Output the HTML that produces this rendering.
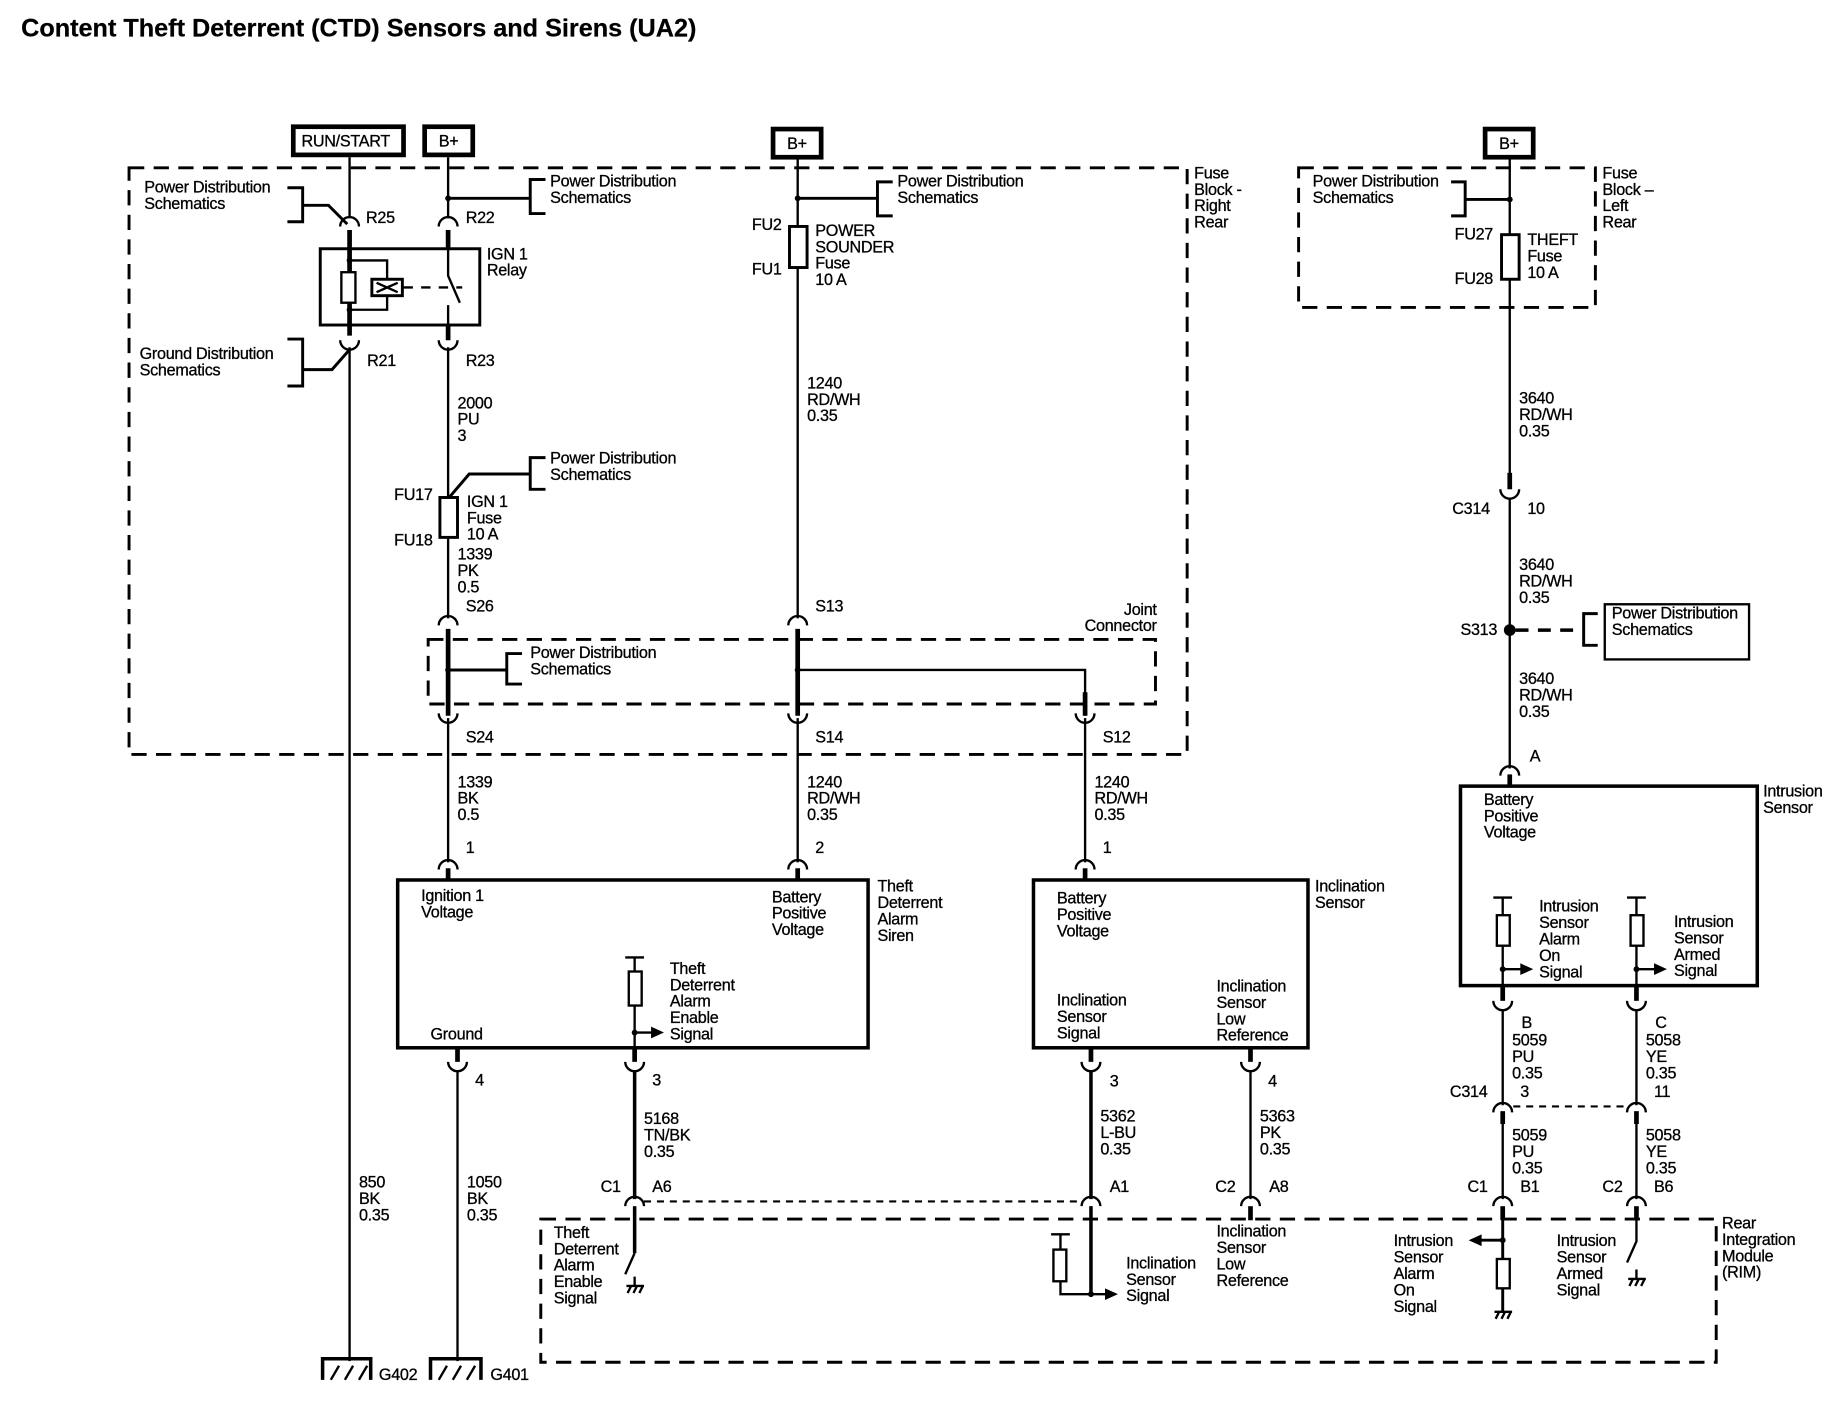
<!DOCTYPE html>
<html><head><meta charset="utf-8"><style>
html,body{margin:0;padding:0;background:#fff}
svg{display:block}
text{font-family:"Liberation Sans",Arial,sans-serif;font-size:13.8px;fill:#000;letter-spacing:-0.25px;stroke:#000;stroke-width:0.25px}
.t{font-size:21.5px;font-weight:bold;letter-spacing:0;stroke-width:0.2px}
.w{stroke:#000;stroke-width:2;fill:none}
.k{stroke:#000;stroke-width:4;fill:none}
.d{stroke:#000;stroke-width:2.5;fill:none;stroke-dasharray:13 8}
.dd{stroke:#000;stroke-width:1.8;fill:none;stroke-dasharray:6 5}
.c{stroke:#000;stroke-width:2;fill:none}
</style></head><body>
<svg width="1830" height="1408" viewBox="0 0 1560 1200" preserveAspectRatio="none" xmlns="http://www.w3.org/2000/svg">
<text class="t" x="18" y="31">Content Theft Deterrent (CTD) Sensors and Sirens (UA2)</text>

<!-- top boxes -->
<rect x="250" y="108" width="94" height="24" fill="none" stroke="#000" stroke-width="4"/>
<text x="257" y="125">RUN/START</text>
<rect x="362" y="108" width="41" height="24" fill="none" stroke="#000" stroke-width="4"/>
<text x="374" y="125">B+</text>
<rect x="659" y="110" width="41" height="24" fill="none" stroke="#000" stroke-width="4"/>
<text x="671" y="127">B+</text>
<rect x="1266" y="110" width="41" height="24" fill="none" stroke="#000" stroke-width="4"/>
<text x="1278" y="127">B+</text>

<!-- fuse block right rear -->
<rect x="110" y="143" width="902" height="500" class="d"/>
<text x="1018" y="152">Fuse</text><text x="1018" y="166">Block -</text><text x="1018" y="180">Right</text><text x="1018" y="194">Rear</text>

<!-- left wire 298 -->
<line x1="298" y1="134" x2="298" y2="186" class="w"/>
<path d="M290 193 A8 8 0 0 1 306 193" class="c"/>
<line x1="298" y1="196" x2="298" y2="286" class="k"/>
<path d="M290 290 A8 8 0 0 0 306 290" class="c"/>
<line x1="298" y1="296" x2="298" y2="1160" class="w"/>
<text x="312" y="190">R25</text><text x="313" y="312">R21</text>
<text x="123" y="164">Power Distribution</text><text x="123" y="178">Schematics</text>
<path d="M245 160 H258 V189 H245 M258 175 H280 L296 191" class="w" style="stroke-width:2.5"/>
<text x="119" y="306">Ground Distribution</text><text x="119" y="320">Schematics</text>
<path d="M245 289 H258 V329 H245 M258 315 H283 L298 298" class="w" style="stroke-width:2.5"/>

<!-- wire 382 -->
<line x1="382" y1="134" x2="382" y2="186" class="w"/>
<circle cx="382" cy="169" r="2.5"/>
<path d="M382 169 H452 M465 153 H452 V182 H465" class="w" style="stroke-width:2.5"/>
<text x="469" y="159">Power Distribution</text><text x="469" y="173">Schematics</text>
<path d="M374 193 A8 8 0 0 1 390 193" class="c"/>
<line x1="382" y1="196" x2="382" y2="213" class="k"/>
<line x1="382" y1="277" x2="382" y2="290" class="k"/>
<path d="M374 290 A8 8 0 0 0 390 290" class="c"/>
<text x="397" y="190">R22</text><text x="397" y="312">R23</text>
<!-- relay -->
<rect x="273" y="212" width="136" height="65" fill="none" stroke="#000" stroke-width="2.5"/>
<circle cx="298" cy="222" r="2.5"/><circle cx="298" cy="264" r="2.5"/>
<path d="M298 222 H330 V238 M298 264 H330 V252" class="w"/>
<rect x="291" y="232" width="12" height="26" fill="#fff" stroke="#000" stroke-width="2"/>
<rect x="317" y="238" width="26" height="14" fill="#fff" stroke="#000" stroke-width="2.5"/>
<path d="M321 241 L339 249 M339 241 L321 249" class="w"/>
<line x1="344" y1="245" x2="394" y2="245" class="w" style="stroke-dasharray:8 7"/>
<path d="M382 213 V235 L392 258 M382 260 V277" class="w"/>
<text x="415" y="221">IGN 1</text><text x="415" y="235">Relay</text>
<line x1="382" y1="296" x2="382" y2="527" class="w"/>
<text x="390" y="348">2000</text><text x="390" y="362">PU</text><text x="390" y="376">3</text>
<path d="M382 425 L400 404 H452 M465 390 H452 V417 H465" class="w" style="stroke-width:2.5"/>
<text x="469" y="395">Power Distribution</text><text x="469" y="409">Schematics</text>
<rect x="375" y="424" width="15" height="34" fill="#fff" stroke="#000" stroke-width="2.5"/>
<text x="336" y="426">FU17</text><text x="336" y="465">FU18</text>
<text x="398" y="432">IGN 1</text><text x="398" y="446">Fuse</text><text x="398" y="460">10 A</text>
<text x="390" y="477">1339</text><text x="390" y="491">PK</text><text x="390" y="505">0.5</text>
<text x="397" y="521">S26</text>
<path d="M374 533 A8 8 0 0 1 390 533" class="c"/>
<line x1="382" y1="536" x2="382" y2="610" class="k"/>

<!-- wire 680 -->
<line x1="680" y1="135" x2="680" y2="527" class="w"/>
<circle cx="680" cy="169" r="2.5"/>
<path d="M680 169 H748 M761 155 H748 V184 H761" class="w" style="stroke-width:2.5"/>
<text x="765" y="159">Power Distribution</text><text x="765" y="173">Schematics</text>
<rect x="673" y="193" width="15" height="35" fill="#fff" stroke="#000" stroke-width="2.5"/>
<text x="641" y="196">FU2</text><text x="641" y="234">FU1</text>
<text x="695" y="201">POWER</text><text x="695" y="215">SOUNDER</text><text x="695" y="229">Fuse</text><text x="695" y="243">10 A</text>
<text x="688" y="331">1240</text><text x="688" y="345">RD/WH</text><text x="688" y="359">0.35</text>
<text x="695" y="521">S13</text>
<path d="M672 533 A8 8 0 0 1 688 533" class="c"/>
<line x1="680" y1="536" x2="680" y2="610" class="k"/>

<!-- joint connector -->
<rect x="365" y="545" width="620" height="55" class="d"/>
<text x="986" y="524" text-anchor="end">Joint</text><text x="986" y="538" text-anchor="end">Connector</text>
<circle cx="382" cy="571" r="2.5"/>
<path d="M382 571 H432 M445 557 H432 V583 H445" class="w" style="stroke-width:2.5"/>
<text x="452" y="561">Power Distribution</text><text x="452" y="575">Schematics</text>
<circle cx="680" cy="571" r="2.5"/>
<path d="M680 571 H925 V610" class="w"/>
<line x1="925" y1="590" x2="925" y2="610" class="k"/>
<path d="M374 608 A8 8 0 0 0 390 608" class="c"/>
<path d="M672 608 A8 8 0 0 0 688 608" class="c"/>
<path d="M917 608 A8 8 0 0 0 933 608" class="c"/>
<text x="397" y="633">S24</text><text x="695" y="633">S14</text><text x="940" y="633">S12</text>
<line x1="382" y1="612" x2="382" y2="735" class="w"/>
<line x1="680" y1="612" x2="680" y2="735" class="w"/>
<line x1="925" y1="612" x2="925" y2="735" class="w"/>
<text x="390" y="671">1339</text><text x="390" y="685">BK</text><text x="390" y="699">0.5</text>
<text x="688" y="671">1240</text><text x="688" y="685">RD/WH</text><text x="688" y="699">0.35</text>
<text x="933" y="671">1240</text><text x="933" y="685">RD/WH</text><text x="933" y="699">0.35</text>
<text x="397" y="727">1</text><text x="695" y="727">2</text><text x="940" y="727">1</text>
<path d="M374 741 A8 8 0 0 1 390 741" class="c"/>
<path d="M672 741 A8 8 0 0 1 688 741" class="c"/>
<path d="M917 741 A8 8 0 0 1 933 741" class="c"/>
<line x1="382" y1="740" x2="382" y2="751" class="k"/>
<line x1="680" y1="740" x2="680" y2="751" class="k"/>
<line x1="925" y1="740" x2="925" y2="751" class="k"/>

<!-- siren box -->
<rect x="339" y="750" width="401" height="143" fill="none" stroke="#000" stroke-width="3"/>
<text x="748" y="760">Theft</text><text x="748" y="774">Deterrent</text><text x="748" y="788">Alarm</text><text x="748" y="802">Siren</text>
<text x="359" y="768">Ignition 1</text><text x="359" y="782">Voltage</text>
<text x="658" y="769">Battery</text><text x="658" y="783">Positive</text><text x="658" y="797">Voltage</text>
<text x="367" y="886">Ground</text>
<path d="M533 816 H549 M541 816 V894" class="w"/>
<rect x="536" y="828" width="11" height="29" fill="#fff" stroke="#000" stroke-width="2"/>
<circle cx="541" cy="880" r="2.5"/>
<path d="M541 880 H556" class="w"/><path d="M555 875 L566 880 L555 885 Z"/>
<text x="571" y="830">Theft</text><text x="571" y="844">Deterrent</text><text x="571" y="858">Alarm</text><text x="571" y="872">Enable</text><text x="571" y="886">Signal</text>
<!-- pins under siren -->
<line x1="390" y1="893" x2="390" y2="905" class="k"/>
<path d="M382 905 A8 8 0 0 0 398 905" class="c"/>
<line x1="390" y1="912" x2="390" y2="1160" class="w"/>
<line x1="541" y1="893" x2="541" y2="905" class="k"/>
<path d="M533 905 A8 8 0 0 0 549 905" class="c"/>
<line x1="541" y1="912" x2="541" y2="1022" class="k" style="stroke-width:3"/>
<text x="405" y="925">4</text><text x="556" y="925">3</text>
<text x="306" y="1012">850</text><text x="306" y="1026">BK</text><text x="306" y="1040">0.35</text>
<text x="398" y="1012">1050</text><text x="398" y="1026">BK</text><text x="398" y="1040">0.35</text>
<text x="549" y="958">5168</text><text x="549" y="972">TN/BK</text><text x="549" y="986">0.35</text>
<text x="512" y="1016">C1</text><text x="556" y="1016">A6</text>
<path d="M533 1028 A8 8 0 0 1 549 1028" class="c"/>
<line x1="541" y1="1028" x2="541" y2="1068" class="k" style="stroke-width:3"/>
<line x1="549" y1="1024" x2="922" y2="1024" class="dd"/>

<!-- grounds -->
<path d="M275 1176 V1158 H316 V1176" class="k" style="stroke-width:3"/>
<path d="M282 1176 L289 1164 M294 1176 L301 1164 M306 1176 L313 1164" class="w"/>
<path d="M367 1176 V1158 H410 V1176" class="k" style="stroke-width:3"/>
<path d="M374 1176 L381 1164 M386 1176 L393 1164 M398 1176 L405 1164" class="w"/>
<text x="323" y="1176">G402</text><text x="418" y="1176">G401</text>

<!-- inclination sensor -->
<rect x="881" y="750" width="234" height="143" fill="none" stroke="#000" stroke-width="3"/>
<text x="1121" y="760">Inclination</text><text x="1121" y="774">Sensor</text>
<text x="901" y="770">Battery</text><text x="901" y="784">Positive</text><text x="901" y="798">Voltage</text>
<text x="901" y="857">Inclination</text><text x="901" y="871">Sensor</text><text x="901" y="885">Signal</text>
<text x="1037" y="845">Inclination</text><text x="1037" y="859">Sensor</text><text x="1037" y="873">Low</text><text x="1037" y="887">Reference</text>
<line x1="930" y1="893" x2="930" y2="905" class="k"/>
<path d="M922 905 A8 8 0 0 0 938 905" class="c"/>
<line x1="930" y1="912" x2="930" y2="1022" class="k" style="stroke-width:3"/>
<line x1="1066" y1="893" x2="1066" y2="905" class="k"/>
<path d="M1058 905 A8 8 0 0 0 1074 905" class="c"/>
<line x1="1066" y1="912" x2="1066" y2="1022" class="w"/>
<text x="946" y="926">3</text><text x="1081" y="926">4</text>
<text x="938" y="956">5362</text><text x="938" y="970">L-BU</text><text x="938" y="984">0.35</text>
<text x="1074" y="956">5363</text><text x="1074" y="970">PK</text><text x="1074" y="984">0.35</text>
<text x="946" y="1016">A1</text><text x="1036" y="1016">C2</text><text x="1082" y="1016">A8</text>
<path d="M922 1028 A8 8 0 0 1 938 1028" class="c"/>
<path d="M1058 1028 A8 8 0 0 1 1074 1028" class="c"/>
<line x1="930" y1="1028" x2="930" y2="1103" class="k" style="stroke-width:3"/>
<line x1="1066" y1="1028" x2="1066" y2="1040" class="k"/>

<!-- RIM -->
<rect x="461" y="1039" width="1002" height="122" class="d"/>
<text x="1468" y="1047">Rear</text><text x="1468" y="1061">Integration</text><text x="1468" y="1075">Module</text><text x="1468" y="1089">(RIM)</text>
<text x="472" y="1055">Theft</text><text x="472" y="1069">Deterrent</text><text x="472" y="1083">Alarm</text><text x="472" y="1097">Enable</text><text x="472" y="1111">Signal</text>
<path d="M541 1068 L533 1086" class="w"/>
<path d="M541 1088 V1096 M534 1096 H549 M535 1102 L538 1096 M540 1102 L543 1096 M545 1102 L548 1096" class="w"/>
<path d="M896 1052 H912 M904 1052 V1103 H943" class="w"/>
<rect x="898" y="1065" width="11" height="27" fill="#fff" stroke="#000" stroke-width="2"/>
<circle cx="930" cy="1103" r="2.5"/><path d="M942 1098 L953 1103 L942 1108 Z"/>
<text x="960" y="1081">Inclination</text><text x="960" y="1095">Sensor</text><text x="960" y="1109">Signal</text>
<text x="1037" y="1054">Inclination</text><text x="1037" y="1068">Sensor</text><text x="1037" y="1082">Low</text><text x="1037" y="1096">Reference</text>

<!-- fuse block left rear -->
<rect x="1107" y="143" width="253" height="119" class="d"/>
<text x="1366" y="152">Fuse</text><text x="1366" y="166">Block –</text><text x="1366" y="180">Left</text><text x="1366" y="194">Rear</text>
<text x="1119" y="159">Power Distribution</text><text x="1119" y="173">Schematics</text>
<path d="M1237 155 H1249 V184 H1237 M1249 170 H1287" class="w" style="stroke-width:2.5"/>
<circle cx="1287" cy="170" r="2.5"/>
<line x1="1287" y1="135" x2="1287" y2="407" class="w"/>
<rect x="1280" y="200" width="15" height="38" fill="#fff" stroke="#000" stroke-width="2.5"/>
<text x="1240" y="204">FU27</text><text x="1240" y="242">FU28</text>
<text x="1302" y="209">THEFT</text><text x="1302" y="223">Fuse</text><text x="1302" y="237">10 A</text>
<text x="1295" y="344">3640</text><text x="1295" y="358">RD/WH</text><text x="1295" y="372">0.35</text>
<line x1="1287" y1="403" x2="1287" y2="417" class="k"/>
<path d="M1279 417 A8 8 0 0 0 1295 417" class="c"/>
<line x1="1287" y1="424" x2="1287" y2="655" class="w"/>
<text x="1238" y="438">C314</text><text x="1302" y="438">10</text>
<text x="1295" y="486">3640</text><text x="1295" y="500">RD/WH</text><text x="1295" y="514">0.35</text>
<circle cx="1287" cy="537" r="5"/>
<text x="1245" y="541">S313</text>
<line x1="1292" y1="537" x2="1350" y2="537" class="w" style="stroke-width:3;stroke-dasharray:11 8"/>
<path d="M1362 523 H1350 V550 H1362" class="w" style="stroke-width:2.5"/>
<rect x="1368" y="515" width="123" height="47" fill="none" stroke="#000" stroke-width="2"/>
<text x="1374" y="527">Power Distribution</text><text x="1374" y="541">Schematics</text>
<text x="1295" y="583">3640</text><text x="1295" y="597">RD/WH</text><text x="1295" y="611">0.35</text>
<text x="1304" y="649">A</text>
<path d="M1279 661 A8 8 0 0 1 1295 661" class="c"/>
<line x1="1287" y1="660" x2="1287" y2="671" class="k"/>

<!-- intrusion sensor -->
<rect x="1245" y="670" width="253" height="170" fill="none" stroke="#000" stroke-width="3"/>
<text x="1503" y="679">Intrusion</text><text x="1503" y="693">Sensor</text>
<text x="1265" y="686">Battery</text><text x="1265" y="700">Positive</text><text x="1265" y="714">Voltage</text>
<path d="M1273 765 H1289 M1281 765 V840 M1281 826 H1297" class="w"/>
<rect x="1276" y="780" width="11" height="26" fill="#fff" stroke="#000" stroke-width="2"/>
<circle cx="1281" cy="826" r="2.5"/><path d="M1296 821 L1307 826 L1296 831 Z"/>
<path d="M1387 765 H1403 M1395 765 V840 M1395 826 H1411" class="w"/>
<rect x="1390" y="780" width="11" height="26" fill="#fff" stroke="#000" stroke-width="2"/>
<circle cx="1395" cy="826" r="2.5"/><path d="M1410 821 L1421 826 L1410 831 Z"/>
<text x="1312" y="777">Intrusion</text><text x="1312" y="791">Sensor</text><text x="1312" y="805">Alarm</text><text x="1312" y="819">On</text><text x="1312" y="833">Signal</text>
<text x="1427" y="790">Intrusion</text><text x="1427" y="804">Sensor</text><text x="1427" y="818">Armed</text><text x="1427" y="832">Signal</text>
<line x1="1281" y1="840" x2="1281" y2="853" class="k"/>
<path d="M1273 853 A8 8 0 0 0 1289 853" class="c"/>
<line x1="1395" y1="840" x2="1395" y2="853" class="k"/>
<path d="M1387 853 A8 8 0 0 0 1403 853" class="c"/>
<line x1="1281" y1="860" x2="1281" y2="942" class="w"/>
<line x1="1395" y1="860" x2="1395" y2="942" class="w"/>
<text x="1297" y="876">B</text><text x="1411" y="876">C</text>
<text x="1289" y="891">5059</text><text x="1289" y="905">PU</text><text x="1289" y="919">0.35</text>
<text x="1403" y="891">5058</text><text x="1403" y="905">YE</text><text x="1403" y="919">0.35</text>
<text x="1236" y="935">C314</text><text x="1296" y="935">3</text><text x="1410" y="935">11</text>
<path d="M1273 948 A8 8 0 0 1 1289 948" class="c"/>
<path d="M1387 948 A8 8 0 0 1 1403 948" class="c"/>
<line x1="1290" y1="943" x2="1386" y2="943" class="dd"/>
<line x1="1281" y1="947" x2="1281" y2="958" class="k"/>
<line x1="1395" y1="947" x2="1395" y2="958" class="k"/>
<line x1="1281" y1="958" x2="1281" y2="1022" class="w"/>
<line x1="1395" y1="958" x2="1395" y2="1022" class="w"/>
<text x="1289" y="972">5059</text><text x="1289" y="986">PU</text><text x="1289" y="1000">0.35</text>
<text x="1403" y="972">5058</text><text x="1403" y="986">YE</text><text x="1403" y="1000">0.35</text>
<text x="1251" y="1016">C1</text><text x="1296" y="1016">B1</text><text x="1366" y="1016">C2</text><text x="1410" y="1016">B6</text>
<path d="M1273 1028 A8 8 0 0 1 1289 1028" class="c"/>
<path d="M1387 1028 A8 8 0 0 1 1403 1028" class="c"/>
<line x1="1281" y1="1028" x2="1281" y2="1040" class="k"/>
<line x1="1395" y1="1028" x2="1395" y2="1040" class="k"/>
<!-- RIM internals right -->
<path d="M1281 1040 V1118 M1281 1057 H1262" class="w" style="stroke-width:2.5"/>
<circle cx="1281" cy="1057" r="2.5"/><path d="M1263 1052 L1252 1057 L1263 1062 Z"/>
<rect x="1276" y="1073" width="11" height="25" fill="#fff" stroke="#000" stroke-width="2"/>
<path d="M1274 1118 H1289 M1275 1124 L1278 1118 M1280 1124 L1283 1118 M1285 1124 L1288 1118" class="w"/>
<text x="1188" y="1062">Intrusion</text><text x="1188" y="1076">Sensor</text><text x="1188" y="1090">Alarm</text><text x="1188" y="1104">On</text><text x="1188" y="1118">Signal</text>
<path d="M1395 1040 V1058 L1387 1076" class="w"/>
<path d="M1395 1082 V1090 M1388 1090 H1403 M1389 1096 L1392 1090 M1394 1096 L1397 1090 M1399 1096 L1402 1090" class="w"/>
<text x="1327" y="1062">Intrusion</text><text x="1327" y="1076">Sensor</text><text x="1327" y="1090">Armed</text><text x="1327" y="1104">Signal</text>
</svg>
</body></html>
